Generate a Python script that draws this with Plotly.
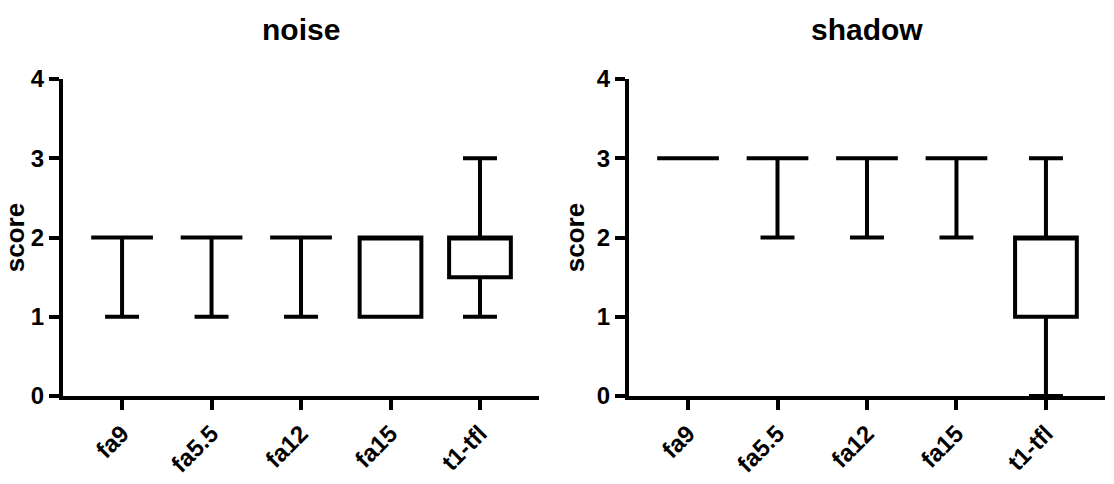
import plotly.graph_objects as go
from plotly.subplots import make_subplots

categories = ["fa9", "fa5.5", "fa12", "fa15", "t1-tfl"]

# noise scores (min / q1 / median / q3 / max)
noise_min = [1, 1, 1, 1, 1]
noise_q1 = [2, 2, 2, 1, 1.5]
noise_med = [2, 2, 2, 2, 2]
noise_q3 = [2, 2, 2, 2, 2]
noise_max = [2, 2, 2, 2, 3]

# shadow scores
shadow_min = [3, 2, 2, 2, 0]
shadow_q1 = [3, 3, 3, 3, 1]
shadow_med = [3, 3, 3, 3, 2]
shadow_q3 = [3, 3, 3, 3, 2]
shadow_max = [3, 3, 3, 3, 3]

font_family = "Liberation Sans, Arial, sans-serif"

fig = make_subplots(rows=1, cols=2, subplot_titles=["noise", "shadow"],
                    horizontal_spacing=0.0863)


def add_box(col, lo, q1, med, q3, hi):
    fig.add_trace(go.Box(
        x=categories, lowerfence=lo, q1=q1, median=med, q3=q3, upperfence=hi,
        boxpoints=False, width=0.69, whiskerwidth=0.55,
        line=dict(color="black", width=4), fillcolor="white",
        showlegend=False, hoverinfo="skip",
    ), row=1, col=col)


add_box(1, noise_min, noise_q1, noise_med, noise_q3, noise_max)
add_box(2, shadow_min, shadow_q1, shadow_med, shadow_q3, shadow_max)

axis_style = dict(showline=True, linecolor="black", linewidth=4,
                  ticks="outside", tickwidth=4, tickcolor="black",
                  showgrid=False, zeroline=False, automargin=False,
                  tickfont=dict(family=font_family, size=24, color="black", weight="bold"))

for c in (1, 2):
    fig.update_xaxes(range=[-0.66, 4.66], tickangle=-45, ticklen=10,
                     **axis_style, row=1, col=c)
    fig.update_yaxes(range=[0, 4], tickvals=[0, 1, 2, 3, 4], ticklen=10,
                     title=dict(text="score", standoff=6,
                                font=dict(family=font_family, size=26, color="black", weight="bold")),
                     **axis_style, row=1, col=c)

for ann in fig.layout.annotations:
    ann.font = dict(family=font_family, size=30, color="black", weight="bold")
    ann.y = 1.155
    ann.yanchor = "middle"

fig.update_layout(
    width=1114, height=484,
    margin=dict(l=63, r=9, t=79, b=88),
    plot_bgcolor="white", paper_bgcolor="white",
    font=dict(family=font_family, color="black"),
)

# drop the browser's default body margin so the figure fills the window
fig.write_html("out.html", config={"displayModeBar": False},
               post_script="document.body.style.margin = '0';")
